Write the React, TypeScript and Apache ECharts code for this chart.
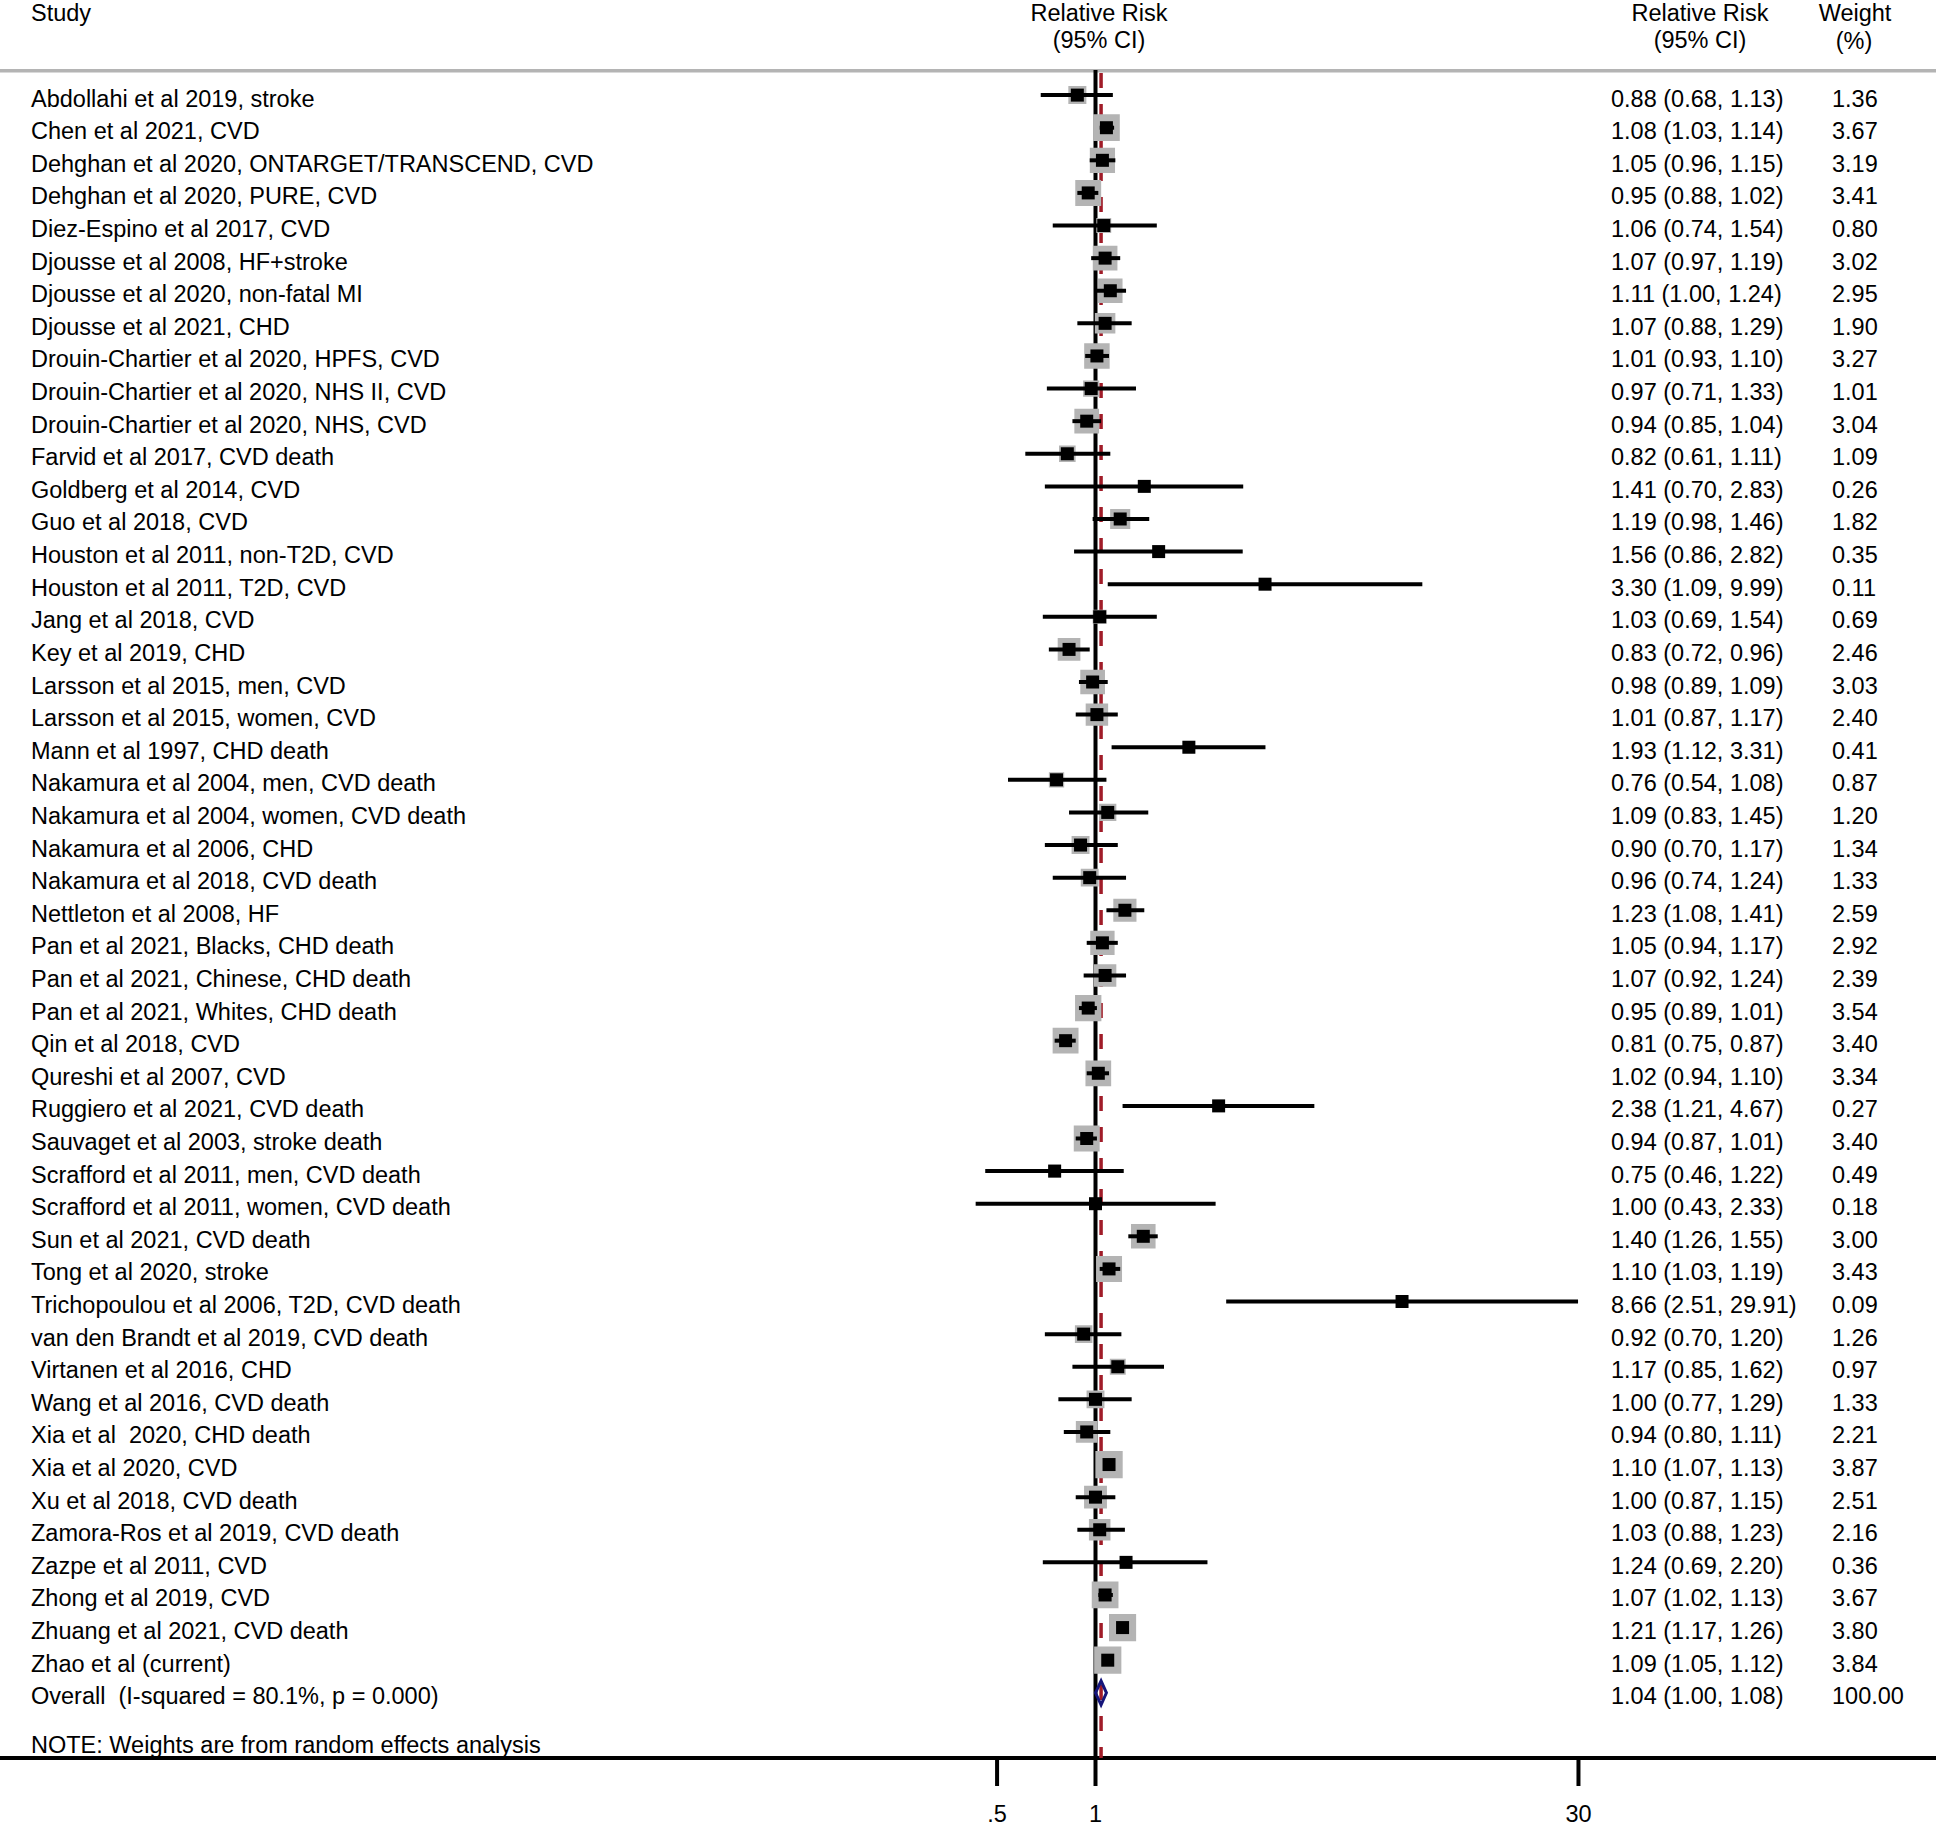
import React, { useEffect, useRef } from "react";
import * as echarts from "echarts";

// ---------------- data ----------------
const studies: string[] = [
  "Abdollahi et al 2019, stroke",
  "Chen et al 2021, CVD",
  "Dehghan et al 2020, ONTARGET/TRANSCEND, CVD",
  "Dehghan et al 2020, PURE, CVD",
  "Diez-Espino et al 2017, CVD",
  "Djousse et al 2008, HF+stroke",
  "Djousse et al 2020, non-fatal MI",
  "Djousse et al 2021, CHD",
  "Drouin-Chartier et al 2020, HPFS, CVD",
  "Drouin-Chartier et al 2020, NHS II, CVD",
  "Drouin-Chartier et al 2020, NHS, CVD",
  "Farvid et al 2017, CVD death",
  "Goldberg et al 2014, CVD",
  "Guo et al 2018, CVD",
  "Houston et al 2011, non-T2D, CVD",
  "Houston et al 2011, T2D, CVD",
  "Jang et al 2018, CVD",
  "Key et al 2019, CHD",
  "Larsson et al 2015, men, CVD",
  "Larsson et al 2015, women, CVD",
  "Mann et al 1997, CHD death",
  "Nakamura et al 2004, men, CVD death",
  "Nakamura et al 2004, women, CVD death",
  "Nakamura et al 2006, CHD",
  "Nakamura et al 2018, CVD death",
  "Nettleton et al 2008, HF",
  "Pan et al 2021, Blacks, CHD death",
  "Pan et al 2021, Chinese, CHD death",
  "Pan et al 2021, Whites, CHD death",
  "Qin et al 2018, CVD",
  "Qureshi et al 2007, CVD",
  "Ruggiero et al 2021, CVD death",
  "Sauvaget et al 2003, stroke death",
  "Scrafford et al 2011, men, CVD death",
  "Scrafford et al 2011, women, CVD death",
  "Sun et al 2021, CVD death",
  "Tong et al 2020, stroke",
  "Trichopoulou et al 2006, T2D, CVD death",
  "van den Brandt et al 2019, CVD death",
  "Virtanen et al 2016, CHD",
  "Wang et al 2016, CVD death",
  "Xia et al  2020, CHD death",
  "Xia et al 2020, CVD",
  "Xu et al 2018, CVD death",
  "Zamora-Ros et al 2019, CVD death",
  "Zazpe et al 2011, CVD",
  "Zhong et al 2019, CVD",
  "Zhuang et al 2021, CVD death",
  "Zhao et al (current)",
];
const rr: number[] = [
  0.88, 1.08, 1.05, 0.95, 1.06, 1.07, 1.11, 1.07, 1.01, 0.97,
  0.94, 0.82, 1.41, 1.19, 1.56, 3.30, 1.03, 0.83, 0.98, 1.01,
  1.93, 0.76, 1.09, 0.90, 0.96, 1.23, 1.05, 1.07, 0.95, 0.81,
  1.02, 2.38, 0.94, 0.75, 1.00, 1.40, 1.10, 8.66, 0.92, 1.17,
  1.00, 0.94, 1.10, 1.00, 1.03, 1.24, 1.07, 1.21, 1.09,
];
const lower: number[] = [
  0.68, 1.03, 0.96, 0.88, 0.74, 0.97, 1.00, 0.88, 0.93, 0.71,
  0.85, 0.61, 0.70, 0.98, 0.86, 1.09, 0.69, 0.72, 0.89, 0.87,
  1.12, 0.54, 0.83, 0.70, 0.74, 1.08, 0.94, 0.92, 0.89, 0.75,
  0.94, 1.21, 0.87, 0.46, 0.43, 1.26, 1.03, 2.51, 0.70, 0.85,
  0.77, 0.80, 1.07, 0.87, 0.88, 0.69, 1.02, 1.17, 1.05,
];
const upper: number[] = [
  1.13, 1.14, 1.15, 1.02, 1.54, 1.19, 1.24, 1.29, 1.10, 1.33,
  1.04, 1.11, 2.83, 1.46, 2.82, 9.99, 1.54, 0.96, 1.09, 1.17,
  3.31, 1.08, 1.45, 1.17, 1.24, 1.41, 1.17, 1.24, 1.01, 0.87,
  1.10, 4.67, 1.01, 1.22, 2.33, 1.55, 1.19, 29.91, 1.20, 1.62,
  1.29, 1.11, 1.13, 1.15, 1.23, 2.20, 1.13, 1.26, 1.12,
];
const weights: number[] = [
  1.36, 3.67, 3.19, 3.41, 0.80, 3.02, 2.95, 1.90, 3.27, 1.01,
  3.04, 1.09, 0.26, 1.82, 0.35, 0.11, 0.69, 2.46, 3.03, 2.40,
  0.41, 0.87, 1.20, 1.34, 1.33, 2.59, 2.92, 2.39, 3.54, 3.40,
  3.34, 0.27, 3.40, 0.49, 0.18, 3.00, 3.43, 0.09, 1.26, 0.97,
  1.33, 2.21, 3.87, 2.51, 2.16, 0.36, 3.67, 3.80, 3.84,
];
const overallLabel = "Overall  (I-squared = 80.1%, p = 0.000)";
const overallRR = 1.04;
const overallLower = 1.0;
const overallUpper = 1.08;
const overallWeight = 100.0;
const tickValues: number[] = [0.5, 1, 30];
const tickLabels: string[] = [".5", "1", "30"];
const noteText = "NOTE: Weights are from random effects analysis";

// ---------------- layout ----------------
const W = 1936;
const H = 1826;
const GRID_TOP = 70;
const AXIS_Y = 1758;
const X_ONE = 1095.5; // pixel of RR = 1
const PX_PER_LN = 142;
const X_MIN = Math.exp(-X_ONE / PX_PER_LN);
const X_MAX = Math.exp((W - X_ONE) / PX_PER_LN);
const Y_MIN = -0.77;
const Y_MAX = 51;
const TEXT_DY = 3.5;
const LABEL_X = 31;
const RR_X = 1611;
const WT_X = 1832;
const FONT = '23.5px "Liberation Sans", Arial, Helvetica, sans-serif';
const GRAY = "#b4b4b4";
const BOX_SCALE = 11.6;
const MARK = 13;

const fmt = (v: number) => v.toFixed(2);
const allLabels = [...studies, overallLabel];
const allRRText = [
  ...rr.map((v, i) => `${fmt(v)} (${fmt(lower[i])}, ${fmt(upper[i])})`),
  `${fmt(overallRR)} (${fmt(overallLower)}, ${fmt(overallUpper)})`,
];
const allWText = [...weights.map((w) => fmt(w)), fmt(overallWeight)];

const txt = (x: number, y: number, text: string, align = "left") => ({
  type: "text",
  x,
  y,
  style: {
    text,
    fill: "#000",
    font: FONT,
    align,
    verticalAlign: "middle",
  },
});

export default function App() {
  const ref = useRef<HTMLDivElement>(null);
  useEffect(() => {
    if (!ref.current) return;
    const chart = echarts.init(ref.current, undefined, { renderer: "svg" });
    const option: any = {
      animation: false,
      backgroundColor: "#fff",
      grid: {
        left: 0,
        right: 0,
        top: GRID_TOP,
        bottom: H - AXIS_Y,
        containLabel: false,
        outerBoundsMode: "none",
      },
      xAxis: {
        type: "log",
        min: X_MIN,
        max: X_MAX,
        axisLine: { show: true, onZero: false, lineStyle: { color: "#000", width: 4 } },
        axisTick: { show: false },
        axisLabel: { show: false },
        splitLine: { show: false },
      },
      yAxis: {
        type: "value",
        min: Y_MIN,
        max: Y_MAX,
        inverse: true,
        show: false,
        splitLine: { show: false },
      },
      graphic: [
        { type: "rect", shape: { x: 0, y: 69, width: W, height: 3.5 }, style: { fill: GRAY } },
        txt(LABEL_X, 12.5, "Study"),
        txt(1099, 12.5, "Relative Risk", "center"),
        txt(1099, 39.5, "(95% CI)", "center"),
        txt(1700, 12.5, "Relative Risk", "center"),
        txt(1700, 39.5, "(95% CI)", "center"),
        txt(1855, 12.5, "Weight", "center"),
        txt(1854, 41, "(%)", "center"),
        txt(LABEL_X, 1745, noteText),
      ],
      series: [
        {
          type: "custom",
          name: "reference",
          z: 1,
          data: [
            [1, Y_MIN],
            [overallRR, Y_MIN],
          ],
          renderItem: (params: any, api: any) => {
            const top = api.coord([api.value(0), Y_MIN]);
            const bot = api.coord([api.value(0), Y_MAX]);
            const dashed = params.dataIndex === 1;
            return {
              type: "line",
              shape: { x1: top[0], y1: top[1] + (dashed ? 3 : 0), x2: bot[0], y2: bot[1] },
              style: dashed
                ? { stroke: "#a01c28", lineWidth: 3.5, lineDash: [15, 16] }
                : { stroke: "#000", lineWidth: 4 },
            };
          },
        },
        {
          type: "custom",
          name: "studies",
          z: 3,
          data: rr.map((v, i) => [v, i, lower[i], upper[i], weights[i]]),
          renderItem: (params: any, api: any) => {
            const row = api.value(1);
            const c = api.coord([api.value(0), row]);
            const l = api.coord([api.value(2), row]);
            const h = api.coord([api.value(3), row]);
            const side = BOX_SCALE * Math.sqrt(api.value(4));
            return {
              type: "group",
              children: [
                {
                  type: "rect",
                  shape: { x: c[0] - side / 2, y: c[1] - side / 2, width: side, height: side },
                  style: { fill: GRAY, stroke: GRAY, lineWidth: 4.5 },
                },
                {
                  type: "line",
                  shape: { x1: l[0], y1: c[1], x2: h[0], y2: c[1] },
                  style: { stroke: "#000", lineWidth: 4 },
                },
                {
                  type: "rect",
                  shape: { x: c[0] - MARK / 2, y: c[1] - MARK / 2, width: MARK, height: MARK },
                  style: { fill: "#000" },
                },
              ],
            };
          },
        },
        {
          type: "custom",
          name: "overall",
          z: 3,
          data: [[overallRR, studies.length, overallLower, overallUpper]],
          renderItem: (params: any, api: any) => {
            const row = api.value(1);
            const c = api.coord([api.value(0), row]);
            const l = api.coord([api.value(2), row]);
            const h = api.coord([api.value(3), row]);
            const hh = 12;
            return {
              type: "polygon",
              shape: {
                points: [
                  [l[0], c[1]],
                  [c[0], c[1] - hh],
                  [h[0], c[1]],
                  [c[0], c[1] + hh],
                ],
              },
              style: { fill: "none", stroke: "#15157a", lineWidth: 3 },
            };
          },
        },
        {
          type: "custom",
          name: "table",
          z: 4,
          data: allLabels.map((_, i) => [1, i]),
          renderItem: (params: any, api: any) => {
            const i = params.dataIndex;
            const y = api.coord([1, api.value(1)])[1] + TEXT_DY;
            return {
              type: "group",
              children: [
                txt(LABEL_X, y, allLabels[i]),
                txt(RR_X, y, allRRText[i]),
                txt(WT_X, y, allWText[i]),
              ],
            };
          },
        },
        {
          type: "custom",
          name: "ticks",
          z: 4,
          data: tickValues.map((v) => [v, Y_MAX]),
          renderItem: (params: any, api: any) => {
            const p = api.coord([api.value(0), api.value(1)]);
            return {
              type: "group",
              children: [
                {
                  type: "line",
                  shape: { x1: p[0], y1: p[1], x2: p[0], y2: p[1] + 28 },
                  style: { stroke: "#000", lineWidth: 4 },
                },
                txt(p[0], p[1] + 55.5, tickLabels[params.dataIndex], "center"),
              ],
            };
          },
        },
      ],
    };
    chart.setOption(option);
    return () => chart.dispose();
  }, []);
  return (
    <div
      ref={ref}
      style={{ position: "absolute", left: 0, top: 0, width: W, height: H }}
    />
  );
}
